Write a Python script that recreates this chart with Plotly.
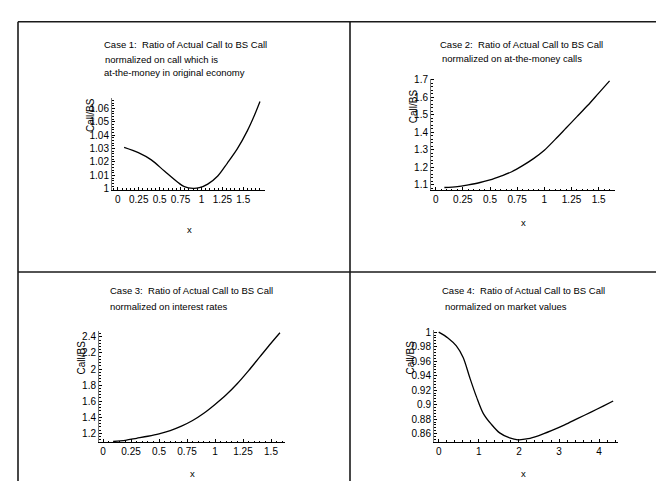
import plotly.graph_objects as go

# ---------------- data ----------------
case1_x = [0.075, 0.245, 0.40, 0.56, 0.72, 0.795, 0.90, 0.975, 1.075, 1.195, 1.31, 1.43, 1.55, 1.63, 1.70]
case1_y = [1.031, 1.027, 1.0216, 1.013, 1.0046, 1.0015, 1.0002, 1.0007, 1.0034, 1.0095, 1.0192, 1.030, 1.0435, 1.0544, 1.0653]

case2_x = [0.08, 0.2, 0.3, 0.4, 0.5, 0.6, 0.7, 0.8, 0.9, 1.0, 1.1, 1.2, 1.3, 1.4, 1.5, 1.6]
case2_y = [1.085, 1.090, 1.100, 1.112, 1.128, 1.150, 1.175, 1.210, 1.250, 1.298, 1.360, 1.425, 1.490, 1.555, 1.625, 1.695]

case3_x = [0.09, 0.2, 0.3, 0.4, 0.5, 0.6, 0.7, 0.8, 0.9, 1.0, 1.1, 1.2, 1.3, 1.4, 1.5, 1.58]
case3_y = [1.10, 1.115, 1.14, 1.165, 1.195, 1.235, 1.29, 1.36, 1.45, 1.56, 1.68, 1.82, 1.98, 2.15, 2.32, 2.45]

case4_x = [0, 0.23, 0.44, 0.61, 0.77, 0.94, 1.11, 1.31, 1.52, 1.77, 1.98, 2.23, 2.48, 2.81, 3.14, 3.47, 3.81, 4.10, 4.35]
case4_y = [1.000, 0.992, 0.981, 0.965, 0.938, 0.911, 0.888, 0.873, 0.861, 0.854, 0.8515, 0.853, 0.857, 0.864, 0.872, 0.881, 0.890, 0.898, 0.905]

x_ticks_small = [0, 0.25, 0.5, 0.75, 1, 1.25, 1.5]
x_ticks_small_text = ["0", "0.25", "0.5", "0.75", "1", "1.25", "1.5"]
x_ticks_case4 = [0, 1, 2, 3, 4]
x_ticks_case4_text = ["0", "1", "2", "3", "4"]

y_ticks_case1 = [1, 1.01, 1.02, 1.03, 1.04, 1.05, 1.06]
y_ticks_case1_text = ["1", "1.01", "1.02", "1.03", "1.04", "1.05", "1.06"]
y_ticks_case2 = [1.1, 1.2, 1.3, 1.4, 1.5, 1.6, 1.7]
y_ticks_case2_text = ["1.1", "1.2", "1.3", "1.4", "1.5", "1.6", "1.7"]
y_ticks_case3 = [1.2, 1.4, 1.6, 1.8, 2.0, 2.2, 2.4]
y_ticks_case3_text = ["1.2", "1.4", "1.6", "1.8", "2", "2.2", "2.4"]
y_ticks_case4 = [0.86, 0.88, 0.90, 0.92, 0.94, 0.96, 0.98, 1.0]
y_ticks_case4_text = ["0.86", "0.88", "0.9", "0.92", "0.94", "0.96", "0.98", "1"]

titles = [
    ["Case 1:  Ratio of Actual Call to BS Call", "normalized on call which is", "at-the-money in original economy"],
    ["Case 2:  Ratio of Actual Call to BS Call", "normalized on at-the-money calls"],
    ["Case 3:  Ratio of Actual Call to BS Call", "normalized on interest rates"],
    ["Case 4:  Ratio of Actual Call to BS Call", "normalized on market values"],
]
y_label = "Call/BS"
x_label = "x"

# ---------------- layout helpers ----------------
W, H = 664, 481
FONT = "Liberation Sans, Arial, Helvetica, sans-serif"


def fx(p):
    return p / W


def fy(p):
    return 1 - p / H


panels = [
    dict(x=case1_x, y=case1_y, xd=(104, 257), yd=(88, 181), xr=(-0.07, 1.76), yr=(0.9993, 1.0677),
         xt=x_ticks_small, xtt=x_ticks_small_text, yt=y_ticks_case1, ytt=y_ticks_case1_text,
         xminor=0.05, yminor=0.002,
         tpos=[(94, 33), (95, 48), (94, 62)], ylab=(82, 105), xlab=(181, 222)),
    dict(x=case2_x, y=case2_y, xd=(423, 607), yd=(68, 181.5), xr=(-0.043, 1.65), yr=(1.07, 1.707),
         xt=x_ticks_small, xtt=x_ticks_small_text, yt=y_ticks_case2, ytt=y_ticks_case2_text,
         xminor=0.05, yminor=0.02,
         tpos=[(430, 33), (432, 47)], ylab=(405, 96), xlab=(515, 215)),
    dict(x=case3_x, y=case3_y, xd=(91, 277), yd=(325, 438.5), xr=(-0.036, 1.625), yr=(1.09, 2.473),
         xt=x_ticks_small, xtt=x_ticks_small_text, yt=y_ticks_case3, ytt=y_ticks_case3_text,
         xminor=0.05, yminor=0.04,
         tpos=[(99.5, 284), (100, 300)], ylab=(73, 352), xlab=(184, 470)),
    dict(x=case4_x, y=case4_y, xd=(426, 610), yd=(324, 438), xr=(-0.117, 4.47), yr=(0.8487, 1.003),
         xt=x_ticks_case4, xtt=x_ticks_case4_text, yt=y_ticks_case4, ytt=y_ticks_case4_text,
         xminor=0.2, yminor=0.004,
         tpos=[(432, 284), (435, 300)], ylab=(402, 352), xlab=(515, 470)),
]

fig = go.Figure()
annotations = []
layout_axes = {}

for i, p in enumerate(panels, start=1):
    sfx = "" if i == 1 else str(i)
    fig.add_trace(go.Scatter(
        x=p["x"], y=p["y"], mode="lines",
        line=dict(color="black", width=1.3, shape="spline", smoothing=0.9),
        xaxis="x" + sfx, yaxis="y" + sfx, showlegend=False, hoverinfo="skip",
    ))
    layout_axes["xaxis" + sfx] = dict(
        domain=[fx(p["xd"][0]), fx(p["xd"][1])], range=list(p["xr"]), anchor="y" + sfx,
        showline=True, linecolor="black", linewidth=1.2, mirror=False,
        ticks="inside", ticklen=3, tickwidth=1, tickcolor="black",
        tickmode="array", tickvals=p["xt"], ticktext=p["xtt"],
        tickfont=dict(family=FONT, size=10, color="black"),
        minor=dict(ticks="inside", ticklen=1.5, tickcolor="black", tickwidth=1, dtick=p["xminor"], tick0=0),
        showgrid=False, zeroline=False, fixedrange=True,
    )
    layout_axes["yaxis" + sfx] = dict(
        domain=[fy(p["yd"][1]), fy(p["yd"][0])], range=list(p["yr"]), anchor="x" + sfx,
        showline=True, linecolor="#777777", linewidth=1, mirror=False,
        ticks="inside", ticklen=3, tickwidth=1, tickcolor="black",
        tickmode="array", tickvals=p["yt"], ticktext=p["ytt"],
        tickfont=dict(family=FONT, size=10, color="black"),
        minor=dict(ticks="inside", ticklen=1.5, tickcolor="black", tickwidth=1, dtick=p["yminor"], tick0=0),
        showgrid=False, zeroline=False, fixedrange=True,
    )
    for text, (tx, ty) in zip(titles[i - 1], p["tpos"]):
        annotations.append(dict(text=text, x=fx(tx), y=fy(ty), xref="paper", yref="paper",
                                xanchor="left", yanchor="middle", showarrow=False,
                                font=dict(family=FONT, size=9.5, color="black")))
    annotations.append(dict(text=y_label, x=fx(p["ylab"][0]), y=fy(p["ylab"][1]), xref="paper", yref="paper",
                            xanchor="center", yanchor="middle", showarrow=False, textangle=-90,
                            font=dict(family=FONT, size=10, color="black")))
    annotations.append(dict(text=x_label, x=fx(p["xlab"][0]), y=fy(p["xlab"][1]), xref="paper", yref="paper",
                            xanchor="center", yanchor="middle", showarrow=False,
                            font=dict(family=FONT, size=9.5, color="black")))

border = dict(color="#1a1a1a", width=1.6)
shapes = [
    dict(type="line", xref="paper", yref="paper", x0=fx(10), x1=fx(664), y0=fy(10), y1=fy(10), line=border),
    dict(type="line", xref="paper", yref="paper", x0=fx(10), x1=fx(10), y0=fy(10), y1=fy(481), line=border),
    dict(type="line", xref="paper", yref="paper", x0=fx(342), x1=fx(342), y0=fy(10), y1=fy(481), line=border),
    dict(type="line", xref="paper", yref="paper", x0=fx(10), x1=fx(664), y0=fy(265), y1=fy(265), line=border),
]

fig.update_layout(
    width=W, height=H, margin=dict(l=0, r=0, t=0, b=0),
    paper_bgcolor="white", plot_bgcolor="white",
    annotations=annotations, shapes=shapes, showlegend=False,
    **layout_axes,
)

fig.write_html("out.html", config={"displayModeBar": False})
